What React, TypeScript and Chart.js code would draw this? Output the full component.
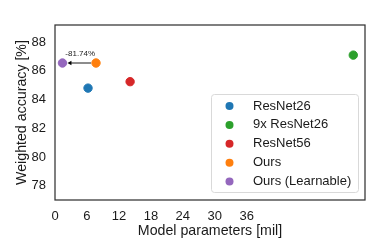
import React, { useEffect, useRef } from "react";
import { Chart, registerables } from "chart.js";

Chart.register(...registerables);

const modelNames = ["ResNet26", "9x ResNet26", "ResNet56", "Ours", "Ours (Learnable)"];
const paramsMil = [6.2, 56.0, 14.1, 7.7, 1.4];
const accuracy = [84.8, 87.1, 85.25, 86.55, 86.55];
const colors = ["#1f77b4", "#2ca02c", "#d62728", "#ff7f0e", "#9467bd"];
const xTicks = [0, 6, 12, 18, 24, 30, 36];
const yTicks = [78, 80, 82, 84, 86, 88];
const reductionLabel = "-81.74%";

const FONT = "'Liberation Sans', Arial, sans-serif";

export default function App() {
  const ref = useRef<HTMLCanvasElement>(null);
  useEffect(() => {
    document.body.style.margin = "0";
    const canvas = ref.current!;
    const overlay = {
      id: "overlay",
      afterDatasetsDraw(chart: any) {
        const ctx = chart.ctx;
        const { left, right, top, bottom } = chart.chartArea;
        const xs = chart.scales.x;
        const ys = chart.scales.y;
        ctx.save();
        // frame
        ctx.strokeStyle = "#333333";
        ctx.lineWidth = 1.25;
        ctx.strokeRect(left, top, right - left, bottom - top);
        // arrow
        const ox = xs.getPixelForValue(paramsMil[3]);
        const oy = ys.getPixelForValue(accuracy[3]);
        const px = xs.getPixelForValue(paramsMil[4]);
        const startX = ox - 5;
        const endX = px + 5;
        ctx.strokeStyle = "#000";
        ctx.fillStyle = "#000";
        ctx.lineWidth = 0.9;
        ctx.beginPath();
        ctx.moveTo(startX, oy);
        ctx.lineTo(endX + 3, oy);
        ctx.stroke();
        ctx.beginPath();
        ctx.moveTo(endX, oy);
        ctx.lineTo(endX + 4, oy - 2.2);
        ctx.lineTo(endX + 4, oy + 2.2);
        ctx.closePath();
        ctx.fill();
        ctx.font = `8px ${FONT}`;
        ctx.textAlign = "center";
        ctx.textBaseline = "middle";
        ctx.fillStyle = "#222";
        ctx.fillText(reductionLabel, (ox + px) / 2 + 1, oy - 9);
        // legend
        const lx = 211, ly = 94, lw = 147, lh = 98;
        ctx.fillStyle = "rgba(255,255,255,0.85)";
        ctx.strokeStyle = "#d9d9d9";
        ctx.lineWidth = 1;
        ctx.beginPath();
        (ctx as any).roundRect(lx + 0.5, ly + 0.5, lw, lh, 3);
        ctx.fill();
        ctx.stroke();
        ctx.font = `13px ${FONT}`;
        ctx.textAlign = "left";
        ctx.textBaseline = "middle";
        modelNames.forEach((name, i) => {
          const y = 106 + i * 18.9;
          ctx.fillStyle = colors[i];
          ctx.beginPath();
          ctx.arc(229.5, y, 4, 0, Math.PI * 2);
          ctx.fill();
          ctx.fillStyle = "#1a1a1a";
          ctx.fillText(name, 253, y);
        });
        ctx.restore();
      },
    };
    const chart = new Chart(canvas, {
      type: "scatter",
      data: {
        datasets: modelNames.map((name, i) => ({
          label: name,
          data: [{ x: paramsMil[i], y: accuracy[i] }],
          backgroundColor: colors[i],
          borderColor: colors[i],
          pointRadius: 4.2,
          pointHoverRadius: 4.2,
        })),
      },
      options: {
        responsive: false,
        animation: false,
        layout: { padding: { top: 25, right: 25, left: 0, bottom: 0 } },
        plugins: { legend: { display: false }, tooltip: { enabled: false } },
        scales: {
          x: {
            type: "linear",
            min: 0,
            max: 58.2,
            afterBuildTicks: (s: any) => {
              s.ticks = xTicks.map((v) => ({ value: v }));
            },
            afterFit: (s: any) => {
              s.height = 42;
            },
            grid: { display: false, drawTicks: false },
            border: { display: false },
            ticks: { color: "#1a1a1a", font: { family: FONT, size: 13 }, padding: 9, maxRotation: 0, autoSkip: false },
            title: {
              display: true,
              text: "Model parameters [mil]",
              color: "#1a1a1a",
              font: { family: FONT, size: 14.2 },
              padding: { top: 0, bottom: 2.5 },
            },
          },
          y: {
            type: "linear",
            min: 77,
            max: 89.2,
            afterBuildTicks: (s: any) => {
              s.ticks = yTicks.map((v) => ({ value: v }));
            },
            afterFit: (s: any) => {
              s.width = 55;
            },
            grid: { display: false, drawTicks: false },
            border: { display: false },
            ticks: { color: "#1a1a1a", font: { family: FONT, size: 13 }, padding: 9, autoSkip: false },
            title: {
              display: true,
              text: "Weighted accuracy [%]",
              color: "#1a1a1a",
              font: { family: FONT, size: 14.2 },
              padding: { top: 14, bottom: 0 },
            },
          },
        },
      },
      plugins: [overlay],
    } as any);
    return () => chart.destroy();
  }, []);
  return <canvas ref={ref} width={390} height={242} style={{ display: "block" }} />;
}
